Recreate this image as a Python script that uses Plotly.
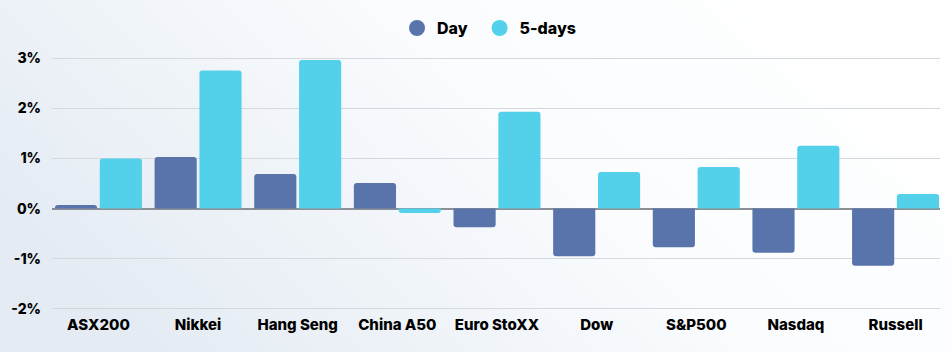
import plotly.graph_objects as go
import base64

categories = ["ASX200", "Nikkei", "Hang Seng", "China A50", "Euro StoXX",
              "Dow", "S&P500", "Nasdaq", "Russell"]
day_values = [0.07, 1.03, 0.69, 0.51, -0.37, -0.95, -0.77, -0.88, -1.14]
five_day_values = [1.00, 2.75, 2.96, -0.09, 1.93, 0.73, 0.83, 1.25, 0.29]
y_tickvals = [-2, -1, 0, 1, 2, 3]
y_ticktext = ["-2%", "-1%", "0%", "1%", "2%", "3%"]

DAY_COLOR = "#5874AB"
FIVE_COLOR = "#53D0EA"
FONT = "Inter"

W, H = 951, 352
ML, MR, MT, MB = 50, 11, 52, 38

svg = f'''<svg xmlns="http://www.w3.org/2000/svg" width="{W + 8}" height="{H + 8}">
<defs><linearGradient id="g" x1="0" y1="0.6" x2="1" y2="0.2">
<stop offset="0" stop-color="#e4ebf3"/>
<stop offset="0.55" stop-color="#fafcfe"/>
<stop offset="1" stop-color="#ffffff"/>
</linearGradient></defs>
<rect width="{W + 8}" height="{H + 8}" fill="url(#g)"/></svg>'''
bg_uri = "data:image/svg+xml;base64," + base64.b64encode(svg.encode()).decode()

pw = W - ML - MR
ph = H - MT - MB

fig = go.Figure()
fig.add_trace(go.Bar(x=categories, y=day_values, name="Day",
                     marker=dict(color=DAY_COLOR, line=dict(width=0)),
                     showlegend=False))
fig.add_trace(go.Bar(x=categories, y=five_day_values, name="5-days",
                     marker=dict(color=FIVE_COLOR, line=dict(width=0)),
                     showlegend=False))
# legend entries with circle markers
fig.add_trace(go.Scatter(x=[None], y=[None], mode="markers", name="Day\u00a0\u00a0",
                         marker=dict(color=DAY_COLOR, size=16, symbol="circle")))
fig.add_trace(go.Scatter(x=[None], y=[None], mode="markers", name="5-days",
                         marker=dict(color=FIVE_COLOR, size=16, symbol="circle")))

fig.update_layout(
    width=W, height=H,
    margin=dict(l=ML, r=MR, t=MT, b=MB, pad=0),
    paper_bgcolor="rgba(0,0,0,0)",
    plot_bgcolor="rgba(0,0,0,0)",
    barmode="group", bargap=0.1, bargroupgap=0.06,
    barcornerradius=3,
    font=dict(family=FONT, size=14, color="#000000"),
    legend=dict(orientation="h", x=0.5 - 7 / pw, xanchor="center", y=1 + 25 / ph,
                yanchor="middle", font=dict(family=FONT, size=16, color="#000000",
                                            weight=800),
                bgcolor="rgba(0,0,0,0)", itemsizing="trace"),
    xaxis=dict(range=[-0.466, 8.446], showgrid=False, zeroline=False,
               showline=False, ticks="",
               tickfont=dict(family=FONT, size=15, color="#000000", weight=800)),
    yaxis=dict(range=[-2.1, 3.1], tickvals=y_tickvals, ticktext=y_ticktext,
               showgrid=True, gridcolor="#d5d8dc", gridwidth=1,
               zeroline=True, zerolinecolor="#8c8f93", zerolinewidth=2,
               showline=False, ticks="", ticklabelstandoff=10,
               tickfont=dict(family=FONT, size=14, color="#000000", weight=800)),
    images=[dict(source=bg_uri, xref="paper", yref="paper",
                 x=-(ML + 4) / pw, y=1 + (MT + 4) / ph,
                 sizex=(W + 8) / pw, sizey=(H + 8) / ph,
                 xanchor="left", yanchor="top", sizing="stretch", layer="below")],
)

fig.write_html("out.html")
